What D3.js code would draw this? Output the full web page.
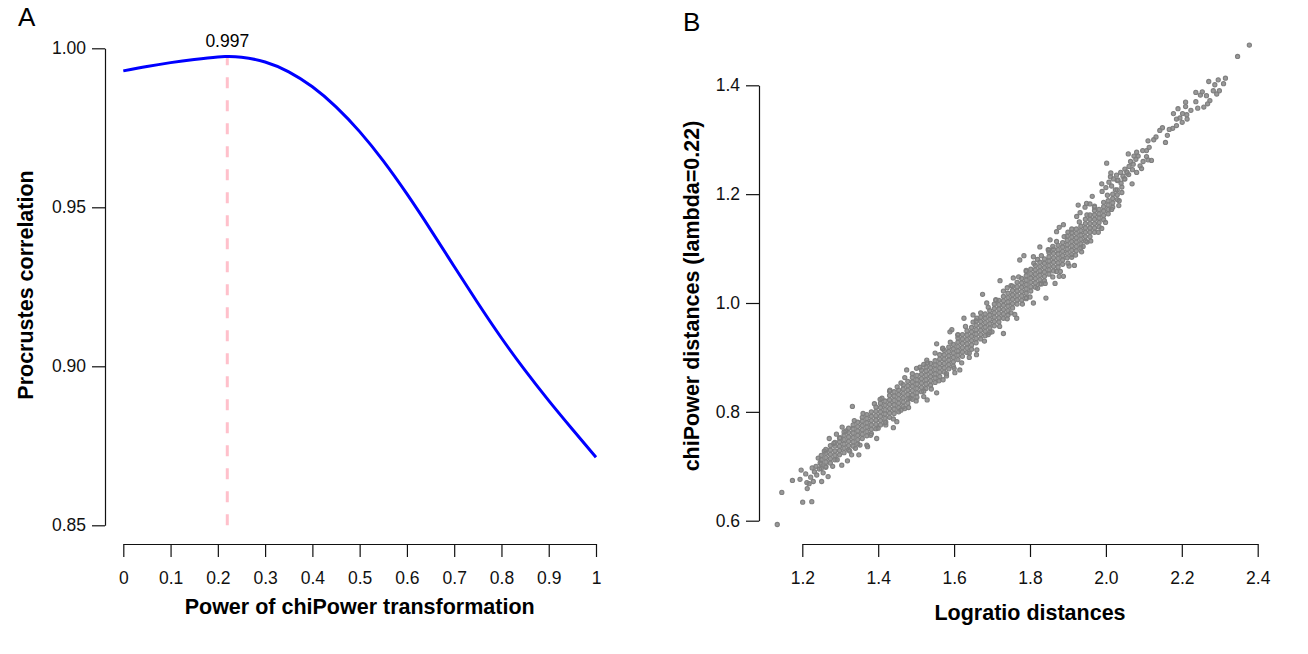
<!DOCTYPE html>
<html>
<head>
<meta charset="utf-8">
<script src="https://cdn.jsdelivr.net/npm/d3@7"></script>
<style>
body { margin: 0; background: #fff; }
svg { display: block; }
</style>
</head>
<body>
<div id="container"><svg></svg></div>
<script>
// panel A - procrustes correlation along the chiPower power
let power_vals = [0, 0.05, 0.1, 0.15, 0.2, 0.22, 0.25, 0.3, 0.35, 0.4, 0.45, 0.5, 0.55, 0.6, 0.65, 0.7, 0.75, 0.8, 0.85, 0.9, 0.95, 1];
let procrustes_vals = [0.9929, 0.9943, 0.9955, 0.9965, 0.9973, 0.9974, 0.9972, 0.9957, 0.9926, 0.9879, 0.9816, 0.9738, 0.9646, 0.9542, 0.9430, 0.9314, 0.9199, 0.9089, 0.8987, 0.8892, 0.8802, 0.8714];
let power_ticks = [0, 0.1, 0.2, 0.3, 0.4, 0.5, 0.6, 0.7, 0.8, 0.9, 1];
let corr_ticks = [0.85, 0.90, 0.95, 1.00];
let best_power = 0.22;
let best_corr = 0.9974;

// panel B - chiPower vs logratio distances
let logratio_ticks = [1.2, 1.4, 1.6, 1.8, 2.0, 2.2, 2.4];
let chipower_ticks = [0.6, 0.8, 1.0, 1.2, 1.4];

// scattered points, edges and the sparse upper end
let sparse_points = [
    [1.134,0.593],[1.146,0.652],[1.174,0.674],[1.194,0.676],[1.197,0.693],[1.209,0.686],[1.212,0.670],[1.213,0.659],
    [1.201,0.634],[1.225,0.635],[1.229,0.672],[1.238,0.684],[1.251,0.672],[1.242,0.715],[1.258,0.728],[1.271,0.751],
    [1.290,0.759],[1.305,0.772],[1.332,0.810],[1.337,0.784],[1.349,0.721],[1.319,0.710],[1.304,0.702],[1.268,0.681],
    [1.218,0.668],[1.222,0.680],[1.232,0.690],[1.245,0.695],[1.236,0.700],[1.226,0.697],[1.255,0.688],[1.262,0.698],
    [1.247,0.706],[1.372,0.736],[1.396,0.751],[1.352,0.739],[1.330,0.721],[1.440,0.771],[1.280,0.700],[1.292,0.712],
    [1.283,0.742],[1.300,0.752],[1.315,0.765],[1.325,0.728],[1.340,0.733],
    [1.405,0.823],[1.431,0.840],[1.475,0.877],[1.501,0.880],[1.528,0.895],[1.554,0.925],[1.589,0.947],[1.594,0.951],
    [1.626,0.972],[1.650,0.978],[1.675,1.016],[1.686,1.000],[1.721,1.041],[1.756,1.046],[1.773,1.079],[1.784,1.087],
    [1.809,1.085],[1.826,1.103],[1.848,1.098],[1.853,1.116],[1.870,1.131],[1.888,1.144],[1.877,1.139],[1.923,1.159],
    [1.927,1.180],[1.945,1.176],[1.949,1.183],[1.958,1.182],[1.964,1.196],[1.932,1.166],
    [1.370,0.739],[1.400,0.770],[1.449,0.782],[1.484,0.825],[1.554,0.835],[1.529,0.822],[1.571,0.859],[1.615,0.877],
    [1.659,0.905],[1.730,0.944],[1.765,0.972],[1.809,1.000],[1.842,1.009],[1.866,1.036],[1.877,1.049],[1.888,1.049],
    [1.903,1.068],[1.917,1.069],[1.936,1.094],[1.989,1.137],[1.999,1.148],[2.015,1.172],[2.035,1.188],[2.034,1.179],
    [1.602,0.872],[1.470,0.806],[1.520,0.838],[1.580,0.870],[1.640,0.908],[1.690,0.942],[1.750,0.982],[1.790,1.008],
    [1.830,1.035],[1.870,1.058],[1.910,1.084],[1.950,1.112],[1.460,0.853],[1.520,0.887],[1.570,0.917],[1.610,0.942],
    [1.660,0.972],[1.710,1.005],[1.740,1.028],[1.790,1.060],[1.820,1.080],[1.860,1.104],[1.900,1.130],[1.970,1.178],
    [1.360,0.797],[1.390,0.815],[1.420,0.781],[1.380,0.757],
    [1.41,0.825],[1.43,0.838],[1.45,0.846],[1.47,0.863],[1.49,0.870],[1.51,0.882],[1.53,0.890],[1.55,0.908],
    [1.57,0.916],[1.59,0.928],[1.61,0.941],[1.63,0.957],[1.65,0.965],[1.67,0.982],[1.69,0.992],[1.71,1.006],
    [1.73,1.022],[1.75,1.032],[1.77,1.048],[1.79,1.058],[1.81,1.073],[1.83,1.087],[1.85,1.097],[1.87,1.113],
    [1.89,1.122],[1.91,1.136],[1.93,1.149],[1.95,1.162],[1.97,1.176],
    [1.42,0.776],[1.44,0.787],[1.46,0.803],[1.48,0.808],[1.50,0.820],[1.52,0.828],[1.54,0.842],[1.56,0.857],
    [1.58,0.866],[1.60,0.880],[1.62,0.890],[1.64,0.900],[1.66,0.914],[1.68,0.930],[1.70,0.947],[1.72,0.957],
    [1.74,0.971],[1.76,0.979],[1.78,0.998],[1.80,1.011],[1.82,1.027],[1.84,1.036],[1.86,1.048],[1.88,1.058],
    [1.90,1.073],[1.92,1.088],[1.94,1.104],[1.96,1.114],[1.98,1.130],
    [1.990,1.205],[2.000,1.212],[2.008,1.222],[2.015,1.215],[2.020,1.228],[2.025,1.208],[2.030,1.225],[2.004,1.198],
    [2.012,1.232],[2.040,1.220],[2.045,1.233],[2.050,1.228],[2.055,1.241],[2.060,1.236],[2.050,1.246],[2.065,1.260],
    [2.070,1.245],[2.002,1.257],[2.013,1.239],[2.028,1.235],[2.039,1.240],[2.056,1.239],[2.069,1.219],[2.048,1.228],
    [2.032,1.226],[1.989,1.219],[2.061,1.251],[2.072,1.255],[2.090,1.252],[2.094,1.247],[2.081,1.240],[2.079,1.264],
    [2.098,1.260],[2.074,1.270],[2.059,1.274],[2.085,1.270],[2.107,1.269],[2.111,1.263],[2.120,1.262],[2.081,1.277],
    [2.097,1.280],[2.107,1.280],[2.114,1.286],[2.111,1.298],[2.126,1.300],[2.132,1.305],[2.157,1.295],[2.162,1.308],
    [2.142,1.317],[2.149,1.322],[2.167,1.319],[2.176,1.321],[2.186,1.326],[2.201,1.332],[2.186,1.338],[2.195,1.340],
    [2.214,1.338],[2.178,1.348],[2.202,1.348],[2.213,1.346],[2.224,1.354],[2.190,1.357],[2.210,1.361],[2.242,1.358],
    [2.258,1.360],[2.268,1.366],[2.274,1.372],[2.210,1.369],[2.237,1.370],[2.237,1.387],[2.254,1.388],[2.249,1.382],
    [2.265,1.381],[2.283,1.390],[2.299,1.390],[2.292,1.384],[2.271,1.407],[2.287,1.401],[2.296,1.410],[2.310,1.403],
    [2.315,1.413],[2.347,1.453],[2.378,1.474]
];

// dense core of the cloud, read column by column
let band_logratio = [1.250,1.262,1.274,1.286,1.298,1.310,1.322,1.334,1.346,1.358,1.370,1.382,1.394,1.406,1.418,1.430,1.442,
    1.454,1.466,1.478,1.490,1.502,1.514,1.526,1.538,1.550,1.562,1.574,1.586,1.598,1.610,1.622,1.634,1.646,1.658,1.670,
    1.682,1.694,1.706,1.718,1.730,1.742,1.754,1.766,1.778,1.790,1.802,1.814,1.826,1.838,1.850,1.862,1.874,1.886,1.898,
    1.910,1.922,1.934,1.946,1.958,1.970,1.982,1.994,2.006,2.018,2.030,2.042];
let band_chipower = [
    [.696,.704,.712,.720],[.700,.708,.716,.724,.731],[.706,.714,.722,.730,.738],[.712,.720,.728,.737,.744],
    [.721,.729,.737,.745,.752],[.725,.733,.741,.749,.757,.763],[.730,.738,.746,.754,.762,.770],[.737,.745,.753,.761,.769,.776],
    [.741,.749,.757,.765,.773,.781],[.751,.759,.767,.775,.783,.790],[.756,.764,.772,.780,.788,.795],[.760,.768,.776,.784,.792,.800],
    [.769,.777,.785,.793,.801,.809],[.776,.784,.792,.800,.808,.816],[.780,.788,.796,.804,.812,.820],[.790,.798,.806,.814,.822,.830],
    [.797,.805,.813,.821,.829,.837],[.800,.808,.816,.824,.832,.840],[.810,.818,.826,.834,.842,.850],[.816,.824,.832,.840,.848,.856],
    [.823,.831,.839,.847,.855,.863],[.827,.835,.843,.851,.859,.867],[.837,.845,.853,.861,.869,.877],[.843,.851,.859,.867,.875,.883],
    [.849,.857,.865,.873,.881,.889],[.854,.862,.870,.878,.886,.894],[.865,.873,.881,.889,.897,.905],[.873,.881,.889,.897,.905,.913],
    [.879,.887,.895,.903,.911,.919],[.884,.892,.900,.908,.916,.924],[.896,.904,.912,.920,.928,.936],[.902,.910,.918,.926,.934,.942],
    [.909,.917,.925,.933,.941,.949],[.915,.923,.931,.939,.947,.955],[.927,.935,.943,.951,.959,.967],[.934,.942,.950,.958,.966,.974],
    [.940,.948,.956,.964,.972,.980],[.946,.954,.962,.970,.978,.986],[.958,.966,.974,.982,.990,.998],[.965,.973,.981,.989,.997,1.005],
    [.972,.980,.988,.996,1.004,1.012],[.978,.986,.994,1.002,1.010,1.018],[.991,.999,1.007,1.015,1.023,1.031],[.998,1.006,1.014,1.022,1.030,1.038],
    [1.005,1.013,1.021,1.029,1.037,1.045],[1.010,1.018,1.026,1.034,1.042,1.050],[1.022,1.030,1.038,1.046,1.054,1.062],[1.029,1.037,1.045,1.053,1.061,1.069],
    [1.035,1.043,1.051,1.059,1.067,1.075],[1.041,1.049,1.057,1.065,1.073,1.081],[1.053,1.061,1.069,1.077,1.085,1.093],[1.059,1.067,1.075,1.083,1.091,1.099],
    [1.066,1.074,1.082,1.090,1.098,1.106],[1.071,1.079,1.087,1.095,1.103,1.111],[1.083,1.091,1.099,1.107,1.115,1.123],[1.089,1.097,1.105,1.113,1.121,1.129],
    [1.096,1.104,1.112,1.120,1.128,1.136],[1.101,1.109,1.117,1.125,1.133,1.141],[1.114,1.122,1.130,1.138,1.146,1.154],[1.122,1.130,1.138,1.146,1.154,1.162],
    [1.130,1.138,1.146,1.154,1.162,1.170],[1.140,1.148,1.156,1.164,1.172],[1.153,1.161,1.169,1.177,1.185],[1.164,1.172,1.180,1.188],
    [1.176,1.184,1.192,1.200],[1.190,1.199,1.208],[1.203,1.213]
];

let fontFamily = '"Liberation Sans", Arial, Helvetica, sans-serif';
let tick_size = 17.5;
let title_size = 21.5;

function style_axis(g) {
    g.attr('font-family', fontFamily)
        .attr('font-size', tick_size)
        .attr('color', '#111');
    g.selectAll('.domain, .tick line').attr('stroke-width', 1.2);
}

function draw_panel_a(svg) {
    let x = d3.scaleLinear().domain([0, 1]).range([123.3, 596]);
    let y = d3.scaleLinear().domain([0.85, 1]).range([525.3, 48.3]);

    // x axis
    svg.append('g')
        .attr('transform', 'translate(0,544)')
        .call(d3.axisBottom(x).tickValues(power_ticks).tickSize(13).tickSizeOuter(0).tickPadding(15)
            .tickFormat(d => String(+d.toFixed(1))))
        .call(style_axis);

    // y axis
    svg.append('g')
        .attr('transform', 'translate(105,0)')
        .call(d3.axisLeft(y).tickValues(corr_ticks).tickSize(13).tickSizeOuter(0).tickPadding(6)
            .tickFormat(d3.format('.2f')))
        .call(style_axis);

    // optimum marker
    svg.append('line')
        .attr('x1', x(best_power)).attr('x2', x(best_power))
        .attr('y1', y(0.85)).attr('y2', y(best_corr))
        .attr('stroke', '#ffc0cb')
        .attr('stroke-width', 3)
        .attr('stroke-dasharray', '11,12');

    let line = d3.line()
        .x((d, i) => x(power_vals[i]))
        .y(d => y(d))
        .curve(d3.curveNatural);
    svg.append('path')
        .datum(procrustes_vals)
        .attr('d', line)
        .attr('fill', 'none')
        .attr('stroke', '#0000ff')
        .attr('stroke-width', 3);

    svg.append('text')
        .attr('x', x(best_power))
        .attr('y', 46.5)
        .attr('text-anchor', 'middle')
        .attr('font-family', fontFamily)
        .attr('font-size', tick_size)
        .text(d3.format('.3f')(best_corr));

    // labels
    svg.append('text')
        .attr('x', 359.7).attr('y', 614)
        .attr('text-anchor', 'middle')
        .attr('font-family', fontFamily).attr('font-weight', 'bold').attr('font-size', title_size)
        .text('Power of chiPower transformation');
    svg.append('text')
        .attr('transform', 'translate(33,285) rotate(-90)')
        .attr('text-anchor', 'middle')
        .attr('font-family', fontFamily).attr('font-weight', 'bold').attr('font-size', title_size)
        .text('Procrustes correlation');
    svg.append('text')
        .attr('x', 18).attr('y', 25.5)
        .attr('font-family', fontFamily).attr('font-size', 26)
        .text('A');
}

function draw_panel_b(svg) {
    let x = d3.scaleLinear().domain([1.2, 2.4]).range([802.3, 1257.7]);
    let y = d3.scaleLinear().domain([0.6, 1.4]).range([520.7, 85.3]);

    svg.append('g')
        .attr('transform', 'translate(0,544)')
        .call(d3.axisBottom(x).tickValues(logratio_ticks).tickSize(13).tickSizeOuter(0).tickPadding(15)
            .tickFormat(d3.format('.1f')))
        .call(style_axis);

    svg.append('g')
        .attr('transform', 'translate(759,0)')
        .call(d3.axisLeft(y).tickValues(chipower_ticks).tickSize(13).tickSizeOuter(0).tickPadding(6)
            .tickFormat(d3.format('.1f')))
        .call(style_axis);

    let points = sparse_points.slice();
    band_logratio.forEach((lr, i) => {
        band_chipower[i].forEach(cp => points.push([lr, cp]));
    });

    // light centres first, then the rings on top
    svg.append('g')
        .selectAll('circle')
        .data(points)
        .enter().append('circle')
        .attr('cx', d => x(d[0]))
        .attr('cy', d => y(d[1]))
        .attr('r', 2.1)
        .attr('fill', '#999999');
    svg.append('g')
        .selectAll('circle')
        .data(points)
        .enter().append('circle')
        .attr('cx', d => x(d[0]))
        .attr('cy', d => y(d[1]))
        .attr('r', 2.1)
        .attr('fill', 'none')
        .attr('stroke', '#7f7f7f')
        .attr('stroke-width', 1.1);

    svg.append('text')
        .attr('x', 1030).attr('y', 620)
        .attr('text-anchor', 'middle')
        .attr('font-family', fontFamily).attr('font-weight', 'bold').attr('font-size', title_size)
        .text('Logratio distances');
    svg.append('text')
        .attr('transform', 'translate(699,296) rotate(-90)')
        .attr('text-anchor', 'middle')
        .attr('font-family', fontFamily).attr('font-weight', 'bold').attr('font-size', title_size)
        .text('chiPower distances (lambda=0.22)');
    svg.append('text')
        .attr('x', 683).attr('y', 30.5)
        .attr('font-family', fontFamily).attr('font-size', 26)
        .text('B');
}

function main() {
    let svg = d3.select('#container').select('svg')
        .attr('width', 1308)
        .attr('height', 654);
    svg.append('rect').attr('width', 1308).attr('height', 654).attr('fill', '#fff');
    draw_panel_a(svg);
    draw_panel_b(svg);
}

main();
</script>
</body>
</html>
